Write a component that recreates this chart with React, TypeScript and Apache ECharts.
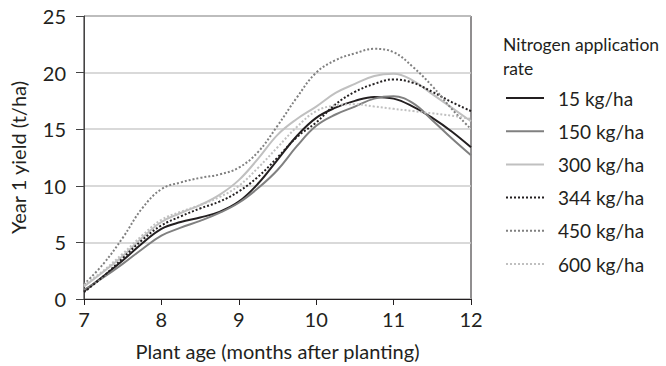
import React, { useEffect, useRef } from "react";
import * as echarts from "echarts";

const months = [7, 7.25, 7.5, 7.75, 8, 8.25, 8.5, 8.75, 9, 9.25, 9.5, 9.75, 10, 10.25, 10.5, 10.75, 11, 11.25, 11.5, 11.75, 12];

const rateNames = ["15 kg/ha", "150 kg/ha", "300 kg/ha", "344 kg/ha", "450 kg/ha", "600 kg/ha"];

const y15 = [0.7, 2.0, 3.4, 4.9, 6.2, 6.8, 7.2, 7.7, 8.6, 10.2, 12.3, 14.4, 16.0, 16.9, 17.5, 17.85, 17.7, 17.0, 16.0, 14.8, 13.4];
const y150 = [0.8, 1.9, 3.1, 4.4, 5.6, 6.3, 6.9, 7.6, 8.5, 9.8, 11.4, 13.5, 15.3, 16.3, 17.0, 17.7, 17.9, 17.3, 15.8, 14.2, 12.7];
const y300 = [1.1, 2.4, 3.8, 5.4, 6.8, 7.6, 8.3, 9.2, 10.5, 12.4, 14.5, 15.9, 17.0, 18.2, 19.0, 19.7, 19.9, 19.3, 18.1, 16.9, 15.7];
const y344 = [0.6, 2.0, 3.6, 5.2, 6.5, 7.3, 8.0, 8.6, 9.5, 10.8, 12.5, 14.3, 15.6, 17.2, 18.3, 19.0, 19.4, 19.1, 18.3, 17.4, 16.6];
const y450 = [1.3, 3.1, 5.4, 8.0, 9.7, 10.3, 10.7, 11.0, 11.6, 13.0, 15.3, 17.8, 20.0, 21.1, 21.7, 22.1, 21.8, 20.5, 18.8, 16.8, 15.0];
const y600 = [1.2, 2.5, 4.0, 5.6, 7.0, 7.7, 8.3, 9.0, 10.0, 11.6, 13.4, 15.2, 16.6, 17.1, 17.2, 17.0, 16.8, 16.6, 16.4, 16.2, 15.9];

const seriesValues = [y15, y150, y300, y344, y450, y600];
const lineColors = ["#231f20", "#808080", "#c0c0c0", "#231f20", "#808080", "#c0c0c0"];
const lineTypes: any[] = ["solid", "solid", "solid", [2, 2], [2, 2], [2, 2]];

const xTicks = [7, 8, 9, 10, 11, 12];
const yTicks = [0, 5, 10, 15, 20, 25];

const FONT = "Lato";
const TEXT = "#231f20";

export default function App() {
  const ref = useRef<HTMLDivElement>(null);
  useEffect(() => {
    if (!ref.current) return;
    const chart = echarts.init(ref.current, undefined, { renderer: "svg" });
    chart.setOption({
      animation: false,
      backgroundColor: "#ffffff",
      textStyle: { fontFamily: FONT, color: TEXT },
      grid: {
        left: 83,
        top: 16,
        right: 195,
        bottom: 66,
        show: true,
        borderColor: "#231f20",
        borderWidth: 1,
      },
      graphic: [
        {
          type: "text",
          left: 503,
          top: 32,
          style: {
            text: "Nitrogen application\nrate",
            font: `17.5px ${FONT}`,
            fill: TEXT,
            lineHeight: 24,
          },
        },
      ],
      legend: {
        orient: "vertical",
        left: 505,
        top: 88,
        padding: 0,
        itemWidth: 38,
        itemHeight: 20,
        itemGap: 13.2,
        data: rateNames,
        itemStyle: { opacity: 0 },
        textStyle: {
          fontFamily: FONT,
          fontSize: 19,
          color: TEXT,
          lineHeight: 20,
          padding: [0, 0, 0, 9],
        },
      },
      xAxis: {
        type: "value",
        min: xTicks[0],
        max: xTicks[xTicks.length - 1],
        interval: 1,
        name: "Plant age (months after planting)",
        nameLocation: "middle",
        nameGap: 42,
        nameTextStyle: { fontFamily: FONT, fontSize: 20, color: TEXT },
        axisLine: { lineStyle: { color: "#231f20", width: 1 } },
        axisTick: { show: true, length: 6, lineStyle: { color: "#231f20" } },
        axisLabel: { fontFamily: FONT, fontSize: 20, color: TEXT, margin: 10 },
        splitLine: { show: false },
      },
      yAxis: {
        type: "value",
        min: yTicks[0],
        max: yTicks[yTicks.length - 1],
        interval: 5,
        name: "Year 1 yield (t/ha)",
        nameLocation: "middle",
        nameGap: 56,
        nameTextStyle: { fontFamily: FONT, fontSize: 20, color: TEXT },
        axisLine: { show: true, lineStyle: { color: "#444444", width: 1 } },
        axisTick: { show: true, length: 8, lineStyle: { color: "#444444" } },
        axisLabel: { fontFamily: FONT, fontSize: 20, color: TEXT, margin: 18 },
        splitLine: { show: true, lineStyle: { color: "#cccccc", width: 1.5 } },
      },
      series: rateNames.map((name, i) => ({
        name,
        type: "line",
        smooth: 0.4,
        symbol: "none",
        data: months.map((m, j) => [m, seriesValues[i][j]]),
        lineStyle: { color: lineColors[i], width: 2, type: lineTypes[i] },
        itemStyle: { color: lineColors[i] },
      })),
    });
    return () => chart.dispose();
  }, []);
  return (
    <div
      ref={ref}
      style={{ position: "absolute", left: 0, top: 0, width: 666, height: 366 }}
    />
  );
}
